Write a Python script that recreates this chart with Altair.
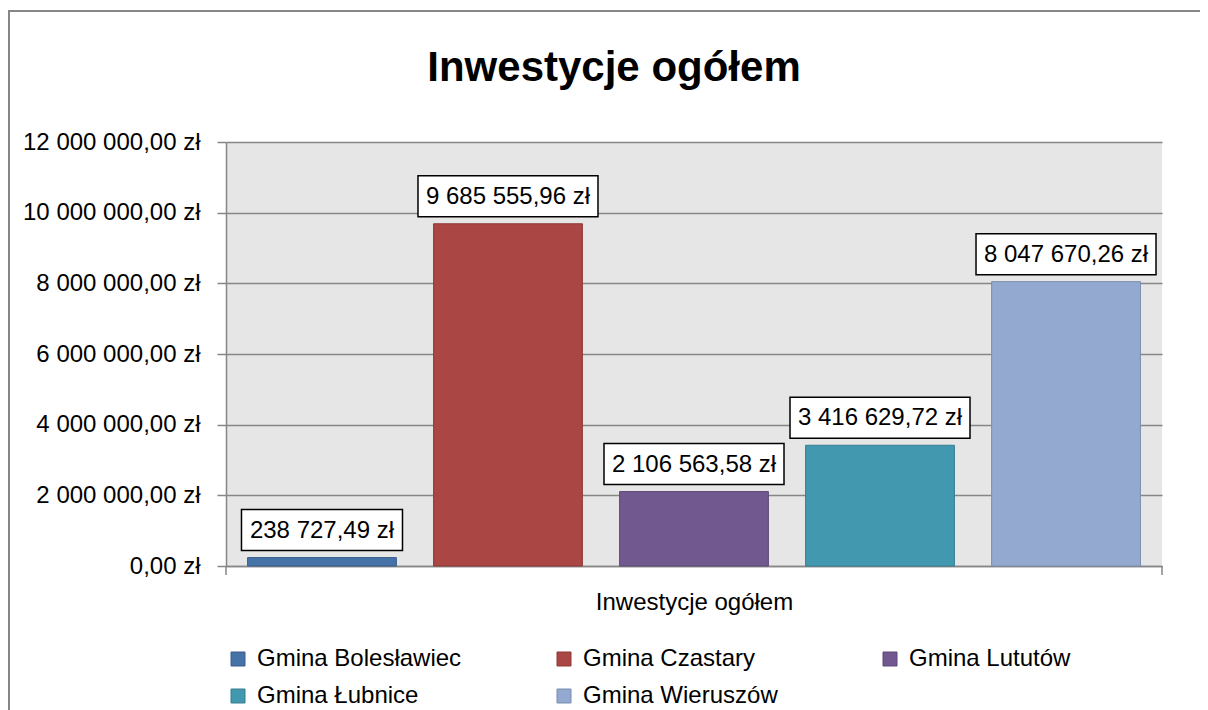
import altair as alt
import pandas as pd

# --- data ---
gminy = ["Gmina Bolesławiec", "Gmina Czastary", "Gmina Lututów", "Gmina Łubnice", "Gmina Wieruszów"]
wartosci = [238727.49, 9685555.96, 2106563.58, 3416629.72, 8047670.26]
kolory = ["#4572A7", "#AA4643", "#71588F", "#4198AF", "#93A9CF"]
obramowania = ["#3A5F8C", "#8E3A38", "#5E4977", "#367F92", "#7B8DB0"]
y_ticks = [0, 2000000, 4000000, 6000000, 8000000, 10000000, 12000000]
tytul = "Inwestycje ogółem"
kategoria = "Inwestycje ogółem"

df = pd.DataFrame({"gmina": gminy, "wartosc": wartosci})

FONT = "Liberation Sans"
GREY = "#868686"

def pln(expr):
    return ("replace(replace(format(" + expr + ", ',.2f'), regexp(',', 'g'), ' '), '.', ',') + ' zł'")

x_enc = alt.X(
    "gmina:N",
    sort=gminy,
    scale=alt.Scale(paddingInner=0.2, paddingOuter=0.116),
    axis=alt.Axis(
        labels=False, ticks=False, title=kategoria, titleFontSize=24,
        titleFontWeight="normal", titleColor="black", titlePadding=24,
        domainColor=GREY, domainWidth=1.5, grid=False,
    ),
)
y_enc = alt.Y(
    "wartosc:Q",
    scale=alt.Scale(domain=[0, 12000000], nice=False),
    axis=alt.Axis(
        values=y_ticks, labelExpr=pln("datum.value"), title=None,
        tickSize=9, tickColor=GREY, tickWidth=1.5, labelPadding=17,
        labelFontSize=24, labelColor="black", domainColor=GREY, domainWidth=1.5,
        grid=True, gridColor=GREY, gridWidth=1.5,
    ),
)

base = alt.Chart(df).transform_calculate(etykieta=pln("datum.wartosc"))

bars = base.mark_bar(strokeWidth=1, opacity=1).encode(
    x=x_enc,
    y=y_enc,
    color=alt.Color(
        "gmina:N",
        scale=alt.Scale(domain=gminy, range=kolory),
        legend=alt.Legend(
            orient="none", legendX=0, legendY=505, columns=3, direction="horizontal",
            gridAlign="all", columnPadding=90, rowPadding=13, symbolType="square",
            symbolSize=196, symbolStrokeWidth=1, symbolStrokeColor="#555555",
            labelFontSize=24, labelOffset=7, labelLimit=400, labelColor="black",
            title=None, padding=0,
        ),
    ),
    stroke=alt.Stroke("gmina:N", scale=alt.Scale(domain=gminy, range=obramowania), legend=None),
)

box_short = base.transform_filter("length(datum.etykieta) <= 13").mark_bar(
    width=161, fill="white", stroke="black", strokeWidth=1.5, yOffset=-48, y2Offset=-7
).encode(x=x_enc, y=y_enc, y2="wartosc:Q")

box_long = base.transform_filter("length(datum.etykieta) > 13").mark_bar(
    width=180, fill="white", stroke="black", strokeWidth=1.5, yOffset=-48, y2Offset=-7
).encode(x=x_enc, y=y_enc, y2="wartosc:Q")

labels = base.mark_text(fontSize=24, dy=-27, baseline="middle", color="black").encode(
    x=x_enc, y=y_enc, text="etykieta:N"
)

one = alt.Data(values=[{}])

frame_left = alt.Chart(one).mark_rule(color=GREY, strokeWidth=2).encode(
    x=alt.value(-217), y=alt.value(-132), y2=alt.value(700)
)
frame_top = alt.Chart(one).mark_rule(color=GREY, strokeWidth=2).encode(
    x=alt.value(-218), x2=alt.value(1100), y=alt.value(-131)
)
tick_left = alt.Chart(one).mark_rule(color=GREY, strokeWidth=1.5).encode(
    x=alt.value(0), y=alt.value(424), y2=alt.value(433)
)
tick_right = alt.Chart(one).mark_rule(color=GREY, strokeWidth=1.5).encode(
    x=alt.value(936), y=alt.value(424), y2=alt.value(433)
)
title = alt.Chart(one).mark_text(
    text=tytul, fontSize=42, fontWeight="bold", color="black", align="center", baseline="alphabetic"
).encode(x=alt.value(388), y=alt.value(-61))

chart = alt.layer(
    frame_left, frame_top, bars, tick_left, tick_right, box_short, box_long, labels, title
).properties(
    width=936,
    height=424,
    padding={"left": 218, "top": 134, "right": 38, "bottom": 144},
    autosize=alt.AutoSizeParams(type="none"),
    background="white",
).configure(font=FONT).configure_view(fill="#E6E6E6", strokeWidth=0)

chart.save("out.html", embed_options={"renderer": "svg", "actions": False})
